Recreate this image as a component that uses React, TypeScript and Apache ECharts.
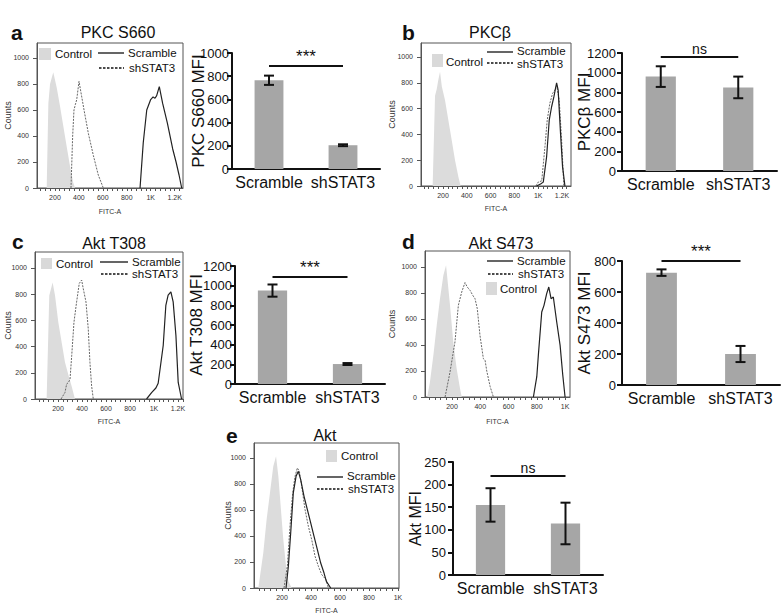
import React, { useEffect, useRef } from "react";
import * as echarts from "echarts";

const FONT = "'Liberation Sans', Arial, Helvetica, sans-serif";

// ---------- Flow histograms: [FITC-A, Counts] ----------
const aControl = [[131, 0], [145, 650], [159, 800], [186, 890], [215, 770], [242, 630], [270, 475], [298, 320], [326, 167], [353, 40], [368, 0]];
const aShSTAT3 = [[334, 0], [348, 400], [359, 600], [370, 640], [382, 680], [401, 820], [424, 700], [443, 600], [479, 420], [521, 250], [562, 100], [604, 0]];
const aScramble = [[911, 0], [938, 350], [967, 600], [1000, 680], [1020, 700], [1036, 690], [1050, 710], [1072, 780], [1100, 650], [1139, 500], [1184, 300], [1212, 200], [1237, 100], [1259, 0]];

const bControl = [[113, 0], [133, 700], [147, 750], [160, 820], [175, 885], [190, 770], [217, 665], [245, 510], [273, 356], [301, 200], [329, 72], [348, 0]];
const bShSTAT3 = [[980, 0], [1000, 30], [1030, 40], [1057, 305], [1076, 510], [1098, 640], [1121, 717], [1140, 743], [1155, 782], [1177, 666], [1197, 356], [1216, 0]];
const bScramble = [[987, 0], [1020, 15], [1043, 30], [1071, 227], [1093, 510], [1113, 614], [1132, 690], [1155, 800], [1168, 743], [1188, 408], [1205, 150], [1225, 0]];

const cControl = [[105, 0], [127, 790], [155, 890], [175, 790], [202, 587], [230, 433], [258, 280], [286, 185], [313, 100], [341, 0]];
const cShSTAT3 = [[225, 0], [258, 50], [272, 115], [286, 125], [300, 150], [314, 330], [333, 587], [355, 741], [377, 882], [397, 908], [410, 844], [433, 741], [452, 536], [466, 280], [480, 100], [494, 0]];
const cScramble = [[938, 0], [980, 48], [1016, 84], [1035, 120], [1077, 408], [1099, 715], [1118, 792], [1141, 818], [1160, 741], [1183, 485], [1202, 126], [1230, 0]];

const dControl = [[25, 0], [44, 115], [68, 320], [92, 551], [115, 756], [139, 936], [158, 1013], [186, 705], [209, 423], [233, 218], [257, 64], [269, 0]];
const dShSTAT3 = [[151, 0], [186, 192], [221, 423], [245, 705], [269, 808], [292, 880], [308, 846], [328, 820], [347, 782], [363, 756], [379, 679], [398, 474], [422, 295], [434, 283], [446, 200], [470, 80], [493, 0]];
const dScramble = [[776, 0], [800, 156], [811, 320], [835, 654], [851, 705], [870, 795], [885, 846], [901, 756], [917, 769], [941, 577], [965, 397], [984, 167], [1000, 0]];

const eControl = [[37, 0], [71, 269], [94, 526], [117, 731], [140, 936], [159, 1013], [175, 859], [191, 628], [209, 372], [228, 167], [244, 51], [267, 0]];
const eShSTAT3 = [[214, 0], [237, 167], [255, 474], [274, 731], [290, 859], [306, 923], [320, 897], [336, 782], [359, 603], [382, 474], [405, 372], [428, 244], [451, 167], [474, 103], [504, 64], [520, 0]];
const eScramble = [[228, 0], [244, 167], [260, 423], [278, 731], [297, 859], [313, 897], [329, 833], [352, 705], [375, 603], [398, 500], [421, 397], [444, 295], [467, 192], [490, 115], [506, 51], [536, 0]];

const countTicks = [0, 200, 400, 600, 800, 1000];
const fitcTicks12 = [200, 400, 600, 800, 1000, 1200];
const fitcTicks10 = [200, 400, 600, 800, 1000];

// ---------- MFI bar charts ----------
const categories = ["Scramble", "shSTAT3"];
const aMFI = [765, 205];
const aErr = [40, 8];
const bMFI = [960, 850];
const bErr = [105, 110];
const cMFI = [950, 203];
const cErr = [62, 10];
const dMFI = [725, 200];
const dErr = [21, 52];
const eMFI = [155, 114];
const eErr = [37, 46];
const sigLevels = [888, 1160, 1088, 800, 219];
const sigLabels = ["***", "ns", "***", "***", "ns"];

const hists = [
  { grid: { left: 37, top: 43, width: 146, height: 145 }, xMin: 50, xMax: 1270, yMax: 1115, ticks: fitcTicks12, control: aControl, sh: aShSTAT3, scr: aScramble, countsGap: 25, fitcGap: 20 },
  { grid: { left: 421, top: 43, width: 150, height: 143 }, xMin: 15, xMax: 1276, yMax: 1108, ticks: fitcTicks12, control: bControl, sh: bShSTAT3, scr: bScramble, countsGap: 25, fitcGap: 19 },
  { grid: { left: 35, top: 252, width: 148, height: 147 }, xMin: 8, xMax: 1242, yMax: 1122, ticks: fitcTicks12, control: cControl, sh: cShSTAT3, scr: cScramble, countsGap: 23, fitcGap: 19 },
  { grid: { left: 425, top: 251, width: 145, height: 146 }, xMin: 9, xMax: 1035, yMax: 1123, ticks: fitcTicks10, control: dControl, sh: dShSTAT3, scr: dScramble, countsGap: 29, fitcGap: 21 },
  { grid: { left: 254, top: 443, width: 145, height: 145 }, xMin: 7, xMax: 1007, yMax: 1115, ticks: fitcTicks10, control: eControl, sh: eShSTAT3, scr: eScramble, countsGap: 22, fitcGap: 19 },
];

const bars = [
  { grid: { left: 232, top: 53, width: 148, height: 116 }, yMax: 1000, interval: 200, name: "PKC S660 MFI", mfi: aMFI, err: aErr, nameGap: 25, nameSize: 17, labelMargin: 3 },
  { grid: { left: 622, top: 53, width: 155, height: 118 }, yMax: 1200, interval: 200, name: "PKCβ MFI", mfi: bMFI, err: bErr, nameGap: 29, nameSize: 17, labelMargin: 6 },
  { grid: { left: 235, top: 266, width: 150, height: 118 }, yMax: 1200, interval: 200, name: "Akt T308 MFI", mfi: cMFI, err: cErr, nameGap: 30, nameSize: 17, labelMargin: 3 },
  { grid: { left: 622, top: 261, width: 158, height: 124 }, yMax: 800, interval: 200, name: "Akt S473 MFI", mfi: dMFI, err: dErr, nameGap: 29, nameSize: 17, labelMargin: 6 },
  { grid: { left: 453, top: 462, width: 150, height: 113 }, yMax: 250, interval: 50, name: "Akt MFI", mfi: eMFI, err: eErr, nameGap: 30, nameSize: 16, labelMargin: 7 },
];

const fmtK = (v: number) => (v >= 1000 ? v / 1000 + "K" : String(v));
const fmtPlain = (v: number) => String(v);

function txt(text: string, x: number, y: number, opts: any = {}) {
  return {
    type: "text",
    x,
    y,
    silent: true,
    style: { text, fill: "#111", fontFamily: FONT, fontSize: 12, align: "left", verticalAlign: "middle", ...opts },
  };
}
function ln(x1: number, y1: number, x2: number, y2: number, dashed: boolean) {
  return {
    type: "line",
    silent: true,
    shape: { x1, y1, x2, y2 },
    style: { stroke: "#111", lineWidth: 1.3, lineDash: dashed ? [2.5, 1.5] : null },
  };
}
function box(x: number, y: number, w: number, h: number) {
  return { type: "rect", silent: true, shape: { x, y, width: w, height: h }, style: { fill: "#d9d9d9" } };
}

function buildOption() {
  const grid: any[] = [];
  const xAxis: any[] = [];
  const yAxis: any[] = [];
  const series: any[] = [];
  const axisColor = "#555";

  hists.forEach((h) => {
    const gi = grid.length;
    grid.push({ ...h.grid, show: true, borderColor: axisColor, borderWidth: 1 });
    // major + minor tick positions (every 40 units)
    const allTicks: number[] = [];
    for (let v = 0; v <= h.xMax; v += 40) {
      if (v >= h.xMin) allTicks.push(v);
    }
    h.ticks.forEach((t) => {
      if (allTicks.indexOf(t) < 0) allTicks.push(t);
    });
    allTicks.sort((p, q) => p - q);
    const xi = xAxis.length;
    xAxis.push({
      gridIndex: gi, type: "value", position: "bottom", min: h.xMin, max: h.xMax,
      axisLine: { show: true, lineStyle: { color: axisColor, width: 1 } },
      axisTick: { show: true, customValues: allTicks, length: 3, lineStyle: { color: axisColor } },
      axisLabel: {
        customValues: h.ticks, formatter: fmtK, fontSize: 7, color: "#333", margin: 6, fontFamily: FONT,
        hideOverlap: false, showMinLabel: true, showMaxLabel: true,
      },
      splitLine: { show: false },
      name: "FITC-A", nameLocation: "middle", nameGap: h.fitcGap, nameMoveOverlap: false,
      nameTextStyle: { fontSize: 7, color: "#333", fontFamily: FONT },
    });
    const yi = yAxis.length;
    yAxis.push({
      gridIndex: gi, type: "value", min: 0, max: h.yMax,
      axisLine: { show: true, lineStyle: { color: axisColor, width: 1 } },
      axisTick: { show: true, customValues: countTicks, length: 4, lineStyle: { color: axisColor } },
      axisLabel: { customValues: countTicks, formatter: fmtPlain, fontSize: 7, color: "#333", margin: 8, fontFamily: FONT, hideOverlap: false },
      splitLine: { show: false },
      name: "Counts", nameLocation: "middle", nameGap: h.countsGap, nameMoveOverlap: false,
      nameTextStyle: { fontSize: 9, color: "#333", fontFamily: FONT },
    });
    series.push({
      type: "line", name: "Control", xAxisIndex: xi, yAxisIndex: yi, data: h.control,
      symbol: "none", silent: true, z: 1,
      lineStyle: { width: 0, color: "#dcdcdc" }, itemStyle: { color: "#dcdcdc" },
      areaStyle: { color: "#dcdcdc", opacity: 1 },
    });
    series.push({
      type: "line", name: "shSTAT3", xAxisIndex: xi, yAxisIndex: yi, data: h.sh,
      symbol: "none", silent: true, z: 2,
      lineStyle: { width: 1, color: "#666", type: [2, 1.2] }, itemStyle: { color: "#666" },
    });
    series.push({
      type: "line", name: "Scramble", xAxisIndex: xi, yAxisIndex: yi, data: h.scr,
      symbol: "none", silent: true, z: 3,
      lineStyle: { width: 1.2, color: "#222" }, itemStyle: { color: "#222" },
    });
  });

  bars.forEach((b, k) => {
    const gi = grid.length;
    grid.push({ ...b.grid, show: false });
    const xi = xAxis.length;
    xAxis.push({
      gridIndex: gi, type: "category", data: categories,
      axisLine: { show: true, lineStyle: { color: "#111", width: 2 } },
      axisTick: { show: false },
      axisLabel: { interval: 0, hideOverlap: false, fontSize: 16, color: "#111", margin: 5, fontFamily: FONT },
    });
    const yi = yAxis.length;
    yAxis.push({
      gridIndex: gi, type: "value", min: 0, max: b.yMax, interval: b.interval,
      axisLine: { show: true, lineStyle: { color: "#111", width: 2 } },
      axisTick: { show: true, length: 5, lineStyle: { color: "#111", width: 2 } },
      axisLabel: { formatter: fmtPlain, fontSize: 13, color: "#111", margin: b.labelMargin, fontFamily: FONT, hideOverlap: false },
      splitLine: { show: false },
      name: b.name, nameLocation: "middle", nameGap: b.nameGap, nameMoveOverlap: false,
      nameTextStyle: { fontSize: b.nameSize, color: "#111", fontFamily: FONT },
    });
    series.push({
      type: "bar", xAxisIndex: xi, yAxisIndex: yi, data: b.mfi, barWidth: "39%",
      itemStyle: { color: "#a6a6a6" }, silent: true, z: 2,
      markLine: {
        silent: true, symbol: ["none", "none"],
        lineStyle: { color: "#111", width: 2, type: "solid" },
        label: {
          show: true, position: "middle", formatter: sigLabels[k], distance: 1,
          fontSize: sigLabels[k] === "ns" ? 14 : 17, color: "#111", fontFamily: FONT,
        },
        data: [[{ coord: [categories[0], sigLevels[k]] }, { coord: [categories[1], sigLevels[k]] }]],
      },
    });
    series.push({
      type: "custom", xAxisIndex: xi, yAxisIndex: yi, silent: true, z: 5,
      data: b.mfi.map((m, i) => [i, m - b.err[i], m + b.err[i]]),
      renderItem: (params: any, api: any) => {
        const x = api.value(0);
        const p1 = api.coord([x, api.value(1)]);
        const p2 = api.coord([x, api.value(2)]);
        const w = 5;
        const style = { stroke: "#111", lineWidth: 2 };
        return {
          type: "group",
          children: [
            { type: "line", shape: { x1: p1[0], y1: p1[1], x2: p2[0], y2: p2[1] }, style },
            { type: "line", shape: { x1: p1[0] - w, y1: p1[1], x2: p1[0] + w, y2: p1[1] }, style },
            { type: "line", shape: { x1: p2[0] - w, y1: p2[1], x2: p2[0] + w, y2: p2[1] }, style },
          ],
        };
      },
    });
  });

  const L = { fontSize: 11.5 };
  const graphic: any[] = [
    txt("a", 11, 32, { fontSize: 21, fontWeight: "bold" }),
    txt("b", 402, 32, { fontSize: 21, fontWeight: "bold" }),
    txt("c", 12, 241, { fontSize: 21, fontWeight: "bold" }),
    txt("d", 402, 241, { fontSize: 21, fontWeight: "bold" }),
    txt("e", 226, 435, { fontSize: 21, fontWeight: "bold" }),
    txt("PKC S660", 118, 32, { fontSize: 16, align: "center" }),
    txt("PKCβ", 490, 32, { fontSize: 16, align: "center" }),
    txt("Akt T308", 114, 243, { fontSize: 16, align: "center" }),
    txt("Akt S473", 501, 243, { fontSize: 16, align: "center" }),
    txt("Akt", 325, 435, { fontSize: 16, align: "center" }),
    box(39, 48, 12, 12), txt("Control", 55, 54, L),
    ln(98, 53, 124, 53, false), txt("Scramble", 128, 53, L),
    ln(99, 68, 124, 68, true), txt("shSTAT3", 129, 68, L),
    box(432, 54, 11, 13), txt("Control", 446, 62, L),
    ln(487, 52, 513, 52, false), txt("Scramble", 517, 51, L),
    ln(487, 63, 513, 63, true), txt("shSTAT3", 517, 64, L),
    box(41, 258, 11, 11), txt("Control", 56, 264, L),
    ln(100, 262, 128, 262, false), txt("Scramble", 132, 262, L),
    ln(101, 274, 128, 274, true), txt("shSTAT3", 132, 274, L),
    ln(487, 261, 513, 261, false), txt("Scramble", 517, 261, L),
    ln(488, 274, 513, 274, true), txt("shSTAT3", 518, 274, L),
    box(486, 282, 11, 13), txt("Control", 500, 289, L),
    box(326, 450, 11, 12), txt("Control", 341, 456, L),
    ln(317, 477, 343, 477, false), txt("Scramble", 347, 476, L),
    ln(317, 489, 343, 489, true), txt("shSTAT3", 348, 489, L),
  ];

  return {
    animation: false,
    backgroundColor: "#ffffff",
    textStyle: { fontFamily: FONT },
    grid,
    xAxis,
    yAxis,
    series,
    graphic,
  };
}

export default function App() {
  const ref = useRef<HTMLDivElement>(null);
  useEffect(() => {
    const chart = echarts.init(ref.current!, null, { renderer: "svg" });
    chart.setOption(buildOption() as any);
    return () => chart.dispose();
  }, []);
  return (
    <div
      ref={ref}
      style={{ position: "absolute", left: 0, top: 0, width: 784, height: 616, background: "#fff" }}
    />
  );
}
